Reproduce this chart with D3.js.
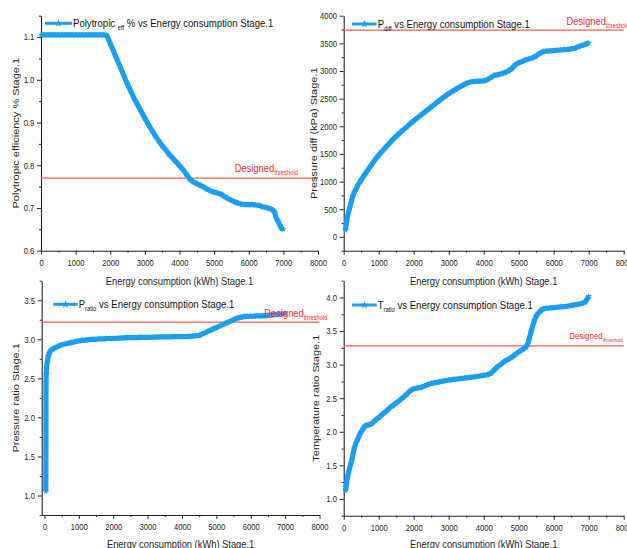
<!DOCTYPE html>
<html>
<head>
<meta charset="utf-8">
<script src="https://cdn.jsdelivr.net/npm/d3@7"></script>
<style>
  body { margin: 0; background: #fff; }
  svg { display: block; }
  text { font-family: Arial, "Liberation Sans", sans-serif; }
</style>
</head>
<body>
<svg id="chart" width="627" height="548"></svg>
<script>
// ---- tick labels ----
const energyTicks = [0, 1000, 2000, 3000, 4000, 5000, 6000, 7000, 8000];
const effTicks = [0.6, 0.7, 0.8, 0.9, 1.0, 1.1];
const pdiffTicks = [0, 500, 1000, 1500, 2000, 2500, 3000, 3500, 4000];
const pratioTicks = [1.0, 1.5, 2.0, 2.5, 3.0, 3.5];
const tratioTicks = [1.0, 1.5, 2.0, 2.5, 3.0, 3.5, 4.0];

// ---- design thresholds ----
const effThreshold = 0.77;
const pdiffThreshold = 3740;
const pratioThreshold = 3.22;
const tratioThreshold = 3.28;

// ---- series: [energy consumption (kWh), value] ----
const polytropicEff = [
  [0,1.105],[100,1.105],[200,1.105],[300,1.105],[400,1.105],[500,1.105],[600,1.105],[700,1.105],
  [800,1.105],[900,1.105],[1000,1.105],[1100,1.105],[1200,1.105],[1300,1.105],[1400,1.105],
  [1500,1.105],[1600,1.105],[1700,1.105],[1800,1.105],[1900,1.104],[2000,1.085],[2100,1.066],
  [2200,1.047],[2300,1.028],[2400,1.008],[2500,0.989],[2600,0.972],[2700,0.955],[2800,0.940],
  [2900,0.925],[3000,0.910],[3100,0.896],[3200,0.882],[3300,0.869],[3400,0.857],[3500,0.846],
  [3600,0.836],[3700,0.826],[3800,0.817],[3900,0.808],[4000,0.799],[4100,0.790],[4200,0.779],
  [4300,0.767],[4400,0.761],[4500,0.757],[4600,0.753],[4700,0.749],[4800,0.744],[4900,0.740],
  [5000,0.737],[5100,0.735],[5200,0.732],[5300,0.727],[5400,0.722],[5500,0.718],[5600,0.714],
  [5700,0.711],[5800,0.709],[5900,0.708],[6000,0.708],[6100,0.708],[6200,0.707],[6300,0.706],
  [6400,0.703],[6500,0.701],[6600,0.699],[6700,0.695],[6750,0.690],[6800,0.675],[6850,0.668],
  [6900,0.660],[6950,0.652],[7000,0.650]
];
const pressureDiff = [
  [50,120],[100,350],[150,480],[200,600],[250,720],[300,800],[350,860],[400,930],[500,1030],
  [600,1130],[700,1220],[800,1310],[900,1400],[1000,1480],[1100,1550],[1200,1620],[1300,1690],
  [1400,1760],[1500,1820],[1600,1880],[1700,1935],[1800,1990],[1900,2045],[2000,2100],[2100,2150],
  [2200,2200],[2300,2250],[2400,2300],[2500,2350],[2600,2400],[2700,2450],[2800,2500],[2900,2545],
  [3000,2590],[3100,2630],[3200,2670],[3300,2705],[3400,2740],[3500,2775],[3600,2800],[3700,2810],
  [3800,2815],[3900,2815],[4000,2820],[4100,2840],[4200,2880],[4300,2920],[4400,2930],[4500,2950],
  [4600,2970],[4700,3000],[4800,3040],[4900,3110],[5000,3150],[5100,3170],[5200,3200],[5300,3220],
  [5400,3240],[5500,3270],[5600,3320],[5700,3350],[5800,3360],[5900,3365],[6000,3370],[6100,3375],
  [6200,3380],[6300,3385],[6400,3390],[6500,3400],[6600,3410],[6700,3440],[6800,3460],[6900,3480],
  [7000,3510]
];
const pressureRatio = [
  [40,1.05],[45,2.38],[48,2.45],[52,2.55],[60,2.62],[75,2.70],[90,2.72],[110,2.78],[140,2.82],
  [170,2.85],[220,2.87],[300,2.89],[400,2.91],[500,2.93],[600,2.94],[700,2.95],[800,2.96],
  [900,2.97],[1000,2.98],[1100,2.985],[1200,2.99],[1300,2.995],[1400,3.0],[1500,3.0],[1600,3.005],
  [1700,3.005],[1800,3.01],[1900,3.01],[2000,3.01],[2200,3.015],[2400,3.02],[2600,3.02],
  [2800,3.025],[3000,3.025],[3200,3.028],[3400,3.03],[3600,3.03],[3800,3.033],[4000,3.035],
  [4200,3.037],[4300,3.04],[4400,3.045],[4500,3.05],[4600,3.07],[4700,3.09],[4800,3.11],
  [4900,3.13],[5000,3.15],[5100,3.17],[5200,3.19],[5300,3.21],[5400,3.23],[5500,3.25],
  [5600,3.27],[5700,3.28],[5800,3.29],[5900,3.292],[6000,3.295],[6100,3.297],[6200,3.30],
  [6300,3.30],[6400,3.30],[6500,3.305],[6600,3.31],[6700,3.315],[6800,3.32],[6900,3.325],
  [7000,3.33]
];
const temperatureRatio = [
  [50,1.12],[100,1.30],[150,1.42],[200,1.52],[250,1.62],[300,1.75],[350,1.83],[400,1.89],
  [450,1.95],[500,2.00],[550,2.04],[600,2.08],[650,2.10],[700,2.10],[750,2.11],[800,2.12],
  [900,2.17],[1000,2.21],[1100,2.26],[1200,2.30],[1300,2.35],[1400,2.39],[1500,2.43],[1600,2.47],
  [1700,2.51],[1800,2.56],[1900,2.61],[2000,2.64],[2100,2.65],[2200,2.66],[2300,2.68],[2400,2.70],
  [2500,2.72],[2600,2.73],[2700,2.74],[2800,2.75],[2900,2.76],[3000,2.77],[3150,2.78],[3300,2.79],
  [3450,2.80],[3600,2.81],[3750,2.82],[3900,2.83],[4000,2.84],[4100,2.85],[4200,2.87],[4300,2.92],
  [4400,2.97],[4500,3.01],[4600,3.05],[4700,3.08],[4800,3.11],[4900,3.15],[5000,3.19],[5100,3.22],
  [5200,3.26],[5250,3.30],[5300,3.38],[5350,3.48],[5400,3.58],[5450,3.66],[5500,3.72],[5550,3.76],
  [5600,3.79],[5700,3.83],[5800,3.84],[5900,3.845],[6000,3.85],[6100,3.855],[6200,3.86],
  [6300,3.865],[6400,3.87],[6500,3.88],[6600,3.89],[6700,3.90],[6800,3.91],[6900,3.93],
  [6950,3.97],[7000,4.02]
];

// ---- styles ----
const SERIES_COLOR = "#1c9ef0";
const RED_LINE = "#ff5a5a";
const RED_TEXT = "#ff2b2b";
const AXIS_COLOR = "#222";
const SQX = 0.85;           // horizontal glyph compression of the exported figure

const xTitle = "Energy consumption (kWh) Stage.1";

const panels = [
  {
    data: polytropicEff, xDomain: [0, 8000], yDomain: [0.6, 1.15],
    xRange: [41, 318], yRange: [250.7, 15.7],
    yTicks: effTicks, yMinorStep: 0.05, yFmt: d3.format(".1f"),
    threshold: effThreshold,
    yTitle: "Polytropic efficiency % Stage.1", yTitleX: 15.5,
    xTitleY: 284.5,
    legend: { x0: 45, x1: 72, y: 23.3, parts: [["Polytropic ", false], ["eff", true], [" % vs Energy consumption Stage.1", false]] },
    designed: { x: 234.7, y: 171.5, size: 11 }
  },
  {
    data: pressureDiff, xDomain: [0, 8000], yDomain: [-250, 4000],
    xRange: [343.7, 623.7], yRange: [250.7, 15.7],
    yTicks: pdiffTicks, yMinorStep: 250, yFmt: d3.format("d"),
    threshold: pdiffThreshold,
    yTitle: "Pressure diff (kPa) Stage.1", yTitleX: 313.5,
    xTitleY: 284.5,
    legend: { x0: 352, x1: 376.7, y: 24, parts: [["P", false], ["diff", true], [" vs Energy consumption Stage.1", false]] },
    designed: { x: 566.5, y: 25, size: 11 }
  },
  {
    data: pressureRatio, xDomain: [-80, 8000], yDomain: [0.75, 3.75],
    xRange: [41.7, 319.5], yRange: [515, 280.7],
    yTicks: pratioTicks, yMinorStep: 0.25, yFmt: d3.format(".1f"),
    threshold: pratioThreshold,
    yTitle: "Pressure ratio Stage.1", yTitleX: 15.5,
    xTitleY: 548,
    legend: { x0: 53.3, x1: 77.7, y: 304.3, parts: [["P", false], ["ratio", true], [" vs Energy consumption Stage.1", false]] },
    designed: { x: 264.3, y: 317, size: 11 }
  },
  {
    data: temperatureRatio, xDomain: [0, 8000], yDomain: [0.75, 4.25],
    xRange: [343.7, 623.7], yRange: [515.7, 280.7],
    yTicks: tratioTicks, yMinorStep: 0.25, yFmt: d3.format(".1f"),
    threshold: tratioThreshold,
    yTitle: "Temperature ratio Stage.1", yTitleX: 316,
    xTitleY: 548,
    legend: { x0: 352, x1: 376.7, y: 305, parts: [["T", false], ["ratio", true], [" vs Energy consumption Stage.1", false]] },
    designed: { x: 569.3, y: 338.5, size: 9.3 }
  }
];

const svg = d3.select("#chart");
const star = d3.symbol().type(d3.symbolStar);

// text placed at (x, y) and compressed horizontally about its anchor
function putText(g, x, y, anchor = "start") {
  return g.append("text")
    .attr("transform", `translate(${x},${y}) scale(${SQX},1)`)
    .attr("text-anchor", anchor);
}

function addParts(textSel, parts, size, subSize) {
  let shifted = false;
  parts.forEach(([t, sub]) => {
    const ts = textSel.append("tspan").text(t);
    if (sub) {
      ts.attr("font-size", subSize).attr("dy", 3);
      shifted = true;
    } else {
      ts.attr("font-size", size);
      if (shifted) { ts.attr("dy", -3); shifted = false; }
    }
  });
}

panels.forEach(p => {
  const g = svg.append("g");
  const x = d3.scaleLinear().domain(p.xDomain).range(p.xRange);
  const y = d3.scaleLinear().domain(p.yDomain).range(p.yRange);
  const xAxisY = p.yRange[0];
  const yAxisX = p.xRange[0];

  // minor ticks
  const xMinor = d3.range(500, 8000, 1000);
  const yMinor = d3.range(p.yDomain[0], p.yDomain[1] + 1e-9, p.yMinorStep)
    .filter(v => !p.yTicks.some(t => Math.abs(t - v) < 1e-9));

  const gxMinor = g.append("g").attr("transform", `translate(0,${xAxisY})`)
    .call(d3.axisBottom(x).tickValues(xMinor).tickSize(2).tickFormat(""));
  gxMinor.select(".domain").remove();
  const gyMinor = g.append("g").attr("transform", `translate(${yAxisX},0)`)
    .call(d3.axisLeft(y).tickValues(yMinor).tickSize(2).tickFormat(""));
  gyMinor.select(".domain").remove();

  // major axes
  const gx = g.append("g").attr("transform", `translate(0,${xAxisY})`)
    .call(d3.axisBottom(x).tickValues(energyTicks).tickSize(4).tickSizeOuter(0)
      .tickPadding(4.6).tickFormat(d3.format("d")));
  const gy = g.append("g").attr("transform", `translate(${yAxisX},0)`)
    .call(d3.axisLeft(y).tickValues(p.yTicks).tickSize(4).tickSizeOuter(0).tickFormat(p.yFmt));

  [gx, gy, gxMinor, gyMinor].forEach(a => {
    a.selectAll("line").attr("stroke", AXIS_COLOR);
    a.selectAll(".domain").attr("stroke", AXIS_COLOR).attr("stroke-width", 1.1);
    a.selectAll("text").attr("font-size", 9).attr("fill", "#222")
      .attr("font-family", "Arial, 'Liberation Sans', sans-serif");
  });
  gx.selectAll("text").attr("transform", `scale(${SQX},1)`);
  gy.selectAll("text").attr("x", -6.7 / SQX).attr("transform", `scale(${SQX},1)`);

  // axis titles
  putText(g, (p.xRange[0] + p.xRange[1]) / 2, p.xTitleY, "middle")
    .attr("font-size", 11).attr("fill", "#222").text(xTitle);
  g.append("text")
    .attr("transform", `translate(${p.yTitleX},${(p.yRange[0] + p.yRange[1]) / 2}) rotate(-90) scale(1,${SQX})`)
    .attr("text-anchor", "middle").attr("dy", "0.35em")
    .attr("font-size", 11).attr("fill", "#222").text(p.yTitle);

  // design threshold
  g.append("line")
    .attr("x1", p.xRange[0]).attr("x2", p.xRange[1])
    .attr("y1", y(p.threshold)).attr("y2", y(p.threshold))
    .attr("stroke", RED_LINE).attr("stroke-width", 1.3);

  // series
  const line = d3.line().x(d => x(d[0])).y(d => y(d[1]));
  g.append("path").datum(p.data)
    .attr("d", line).attr("fill", "none")
    .attr("stroke", SERIES_COLOR).attr("stroke-width", 5.2)
    .attr("stroke-linejoin", "round");
  g.append("g").selectAll("path").data(p.data).join("path")
    .attr("transform", d => `translate(${x(d[0])},${y(d[1])})`)
    .attr("d", star.size(13)())
    .attr("fill", SERIES_COLOR);

  // legend
  const L = p.legend;
  g.append("line").attr("x1", L.x0).attr("x2", L.x1).attr("y1", L.y).attr("y2", L.y)
    .attr("stroke", SERIES_COLOR).attr("stroke-width", 3);
  g.append("path").attr("transform", `translate(${(L.x0 + L.x1) / 2},${L.y})`)
    .attr("d", star.size(20)()).attr("fill", SERIES_COLOR);
  const lt = putText(g, L.x1 + 1, L.y + 3.9).attr("fill", "#111");
  addParts(lt, L.parts, 11.3, 6.8);

  // threshold label
  const D = p.designed;
  const dt = putText(g, D.x, D.y).attr("fill", RED_TEXT);
  addParts(dt, [["Designed", false], ["threshold", true]], D.size, D.size * 0.62);
});
</script>
</body>
</html>
